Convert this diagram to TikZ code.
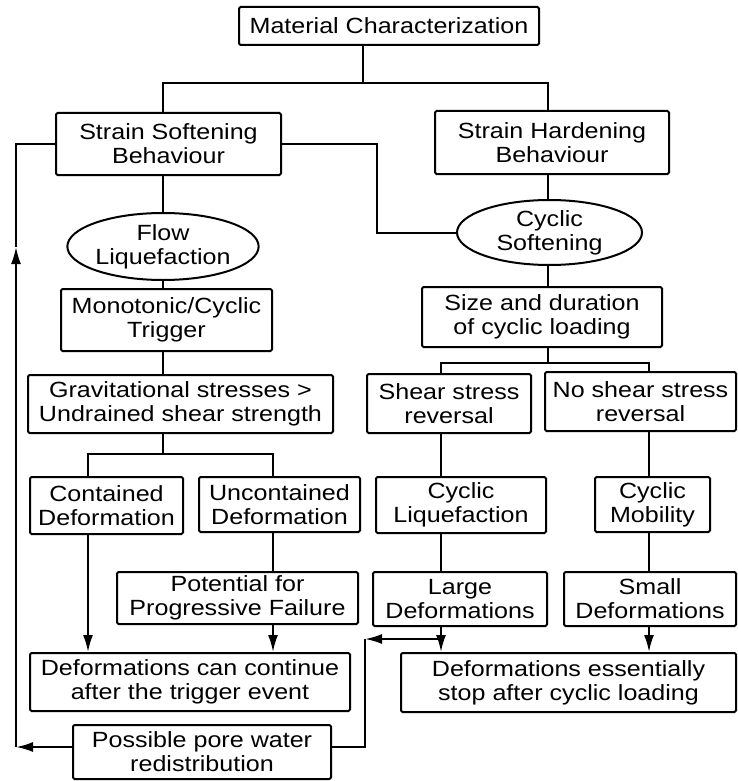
\documentclass[tikz,border=0pt]{standalone}
\usepackage{fontspec}
\setmainfont{Liberation Sans}[FakeStretch=1.14]
\usepackage{tikz}
\usetikzlibrary{shapes}
\usetikzlibrary{arrows.meta}
\usetikzlibrary{calc}

\tikzset{
  blk/.style={draw, rectangle, rounded corners=1.5pt, align=center, inner sep=0pt},
  oval/.style={draw, ellipse, align=center, inner sep=0pt},
  arr/.style={-{Latex[length=17pt,width=10pt]}},
}

\begin{document}
\begin{tikzpicture}[x=1pt, y=-1pt, line width=2pt, font=\fontsize{22}{24}\selectfont]
  \useasboundingbox (0,0) rectangle (738,781);
  % left branch
  \node[blk, minimum width=300, minimum height=38] (title) at (389,26) {Material Characterization};
  \node[blk, minimum width=225, minimum height=62] (soft) at (168.5,144) {Strain Softening\\Behaviour};
  \node[oval, minimum width=189, minimum height=67] (flow) at (163,246.5) {Flow\\Liquefaction};
  \node[blk, minimum width=211, minimum height=62] (mono) at (166.5,320) {Monotonic/Cyclic\\Trigger};
  \node[blk, minimum width=305, minimum height=58] (grav) at (180.5,404) {Gravitational stresses >\\Undrained shear strength};
  \node[blk, minimum width=153, minimum height=57] (cont) at (106.5,505.5) {Contained\\Deformation};
  \node[blk, minimum width=161, minimum height=55] (uncont) at (279.5,504.5) {Uncontained\\Deformation};
  \node[blk, minimum width=241, minimum height=52] (pot) at (237.5,598) {Potential for\\Progressive Failure};
  \node[blk, minimum width=320, minimum height=58] (goon) at (190,682) {Deformations can continue\\after the trigger event};
  \node[blk, minimum width=258, minimum height=54] (pore) at (202,752) {Possible pore water\\redistribution};
  % right branch
  \node[blk, minimum width=234, minimum height=63] (hard) at (552,142.5) {Strain Hardening\\Behaviour};
  \node[oval, minimum width=185, minimum height=65] (cyc) at (549.5,232.5) {Cyclic\\Softening};
  \node[blk, minimum width=240, minimum height=60] (size) at (542,317) {Size and duration\\of cyclic loading};
  \node[blk, minimum width=164, minimum height=59] (shear) at (449,403.5) {Shear stress\\reversal};
  \node[blk, minimum width=191, minimum height=59] (noshear) at (640.5,401.5) {No shear stress\\reversal};
  \node[blk, minimum width=170, minimum height=56] (cliq) at (461,505) {Cyclic\\Liquefaction};
  \node[blk, minimum width=115, minimum height=55] (cmob) at (652.5,504.5) {Cyclic\\Mobility};
  \node[blk, minimum width=174, minimum height=54] (large) at (460,599) {Large\\Deformations};
  \node[blk, minimum width=172, minimum height=54] (small) at (650,599) {Small\\Deformations};
  \node[blk, minimum width=335, minimum height=59] (stop) at (568.5,682.5) {Deformations essentially\\stop after cyclic loading};

  % columns for the connectors
  \coordinate (top) at (363,83);
  \coordinate (xl) at (163,0);
  \coordinate (xm) at (377,0);
  \coordinate (xr) at (548,0);
  \coordinate (c1) at (88,0);
  \coordinate (c2) at (273,0);
  \coordinate (s1) at (441,0);
  \coordinate (s2) at (649,0);
  \coordinate (ly) at (0,454);
  \coordinate (ry) at (0,363);

  \draw (title.south -| top) -- (top);
  \draw (soft.north -| xl) |- (top) -| (hard.north -| xr);
  \draw (soft.south -| xl) -- (flow.north);
  \draw (soft.east) -- (soft.east -| xm) |- (cyc.west);
  \draw (flow.south) -- (mono.north -| xl);
  \draw (mono.south -| xl) -- (grav.north -| xl);
  \draw (grav.south -| xl) -- (ly -| xl);
  \draw (cont.north -| c1) |- (ly -| xl) -| (uncont.north -| c2);
  \draw (uncont.south -| c2) -- (pot.north -| c2);
  \draw[arr] (cont.south -| c1) -- (goon.north -| c1);
  \draw[arr] (pot.south -| c2) -- (goon.north -| c2);

  \draw (hard.south -| xr) -- (cyc.north -| xr);
  \draw (cyc.south -| xr) -- (size.north -| xr);
  \draw (size.south -| xr) -- (ry -| xr);
  \draw (shear.north -| s1) |- (ry -| xr) -| (noshear.north -| s2);
  \draw (shear.south -| s1) -- (cliq.north -| s1);
  \draw (cliq.south -| s1) -- (large.north -| s1);
  \draw[arr] (large.south -| s1) -- (stop.north -| s1);
  \draw (noshear.south -| s2) -- (cmob.north -| s2);
  \draw (cmob.south -| s2) -- (small.north -| s2);
  \draw[arr] (small.south -| s2) -- (stop.north -| s2);

  % pore water feedback
  \coordinate (jn) at (441,639);
  \coordinate (kr) at (365,639);
  \coordinate (kl) at (16,747);
  \coordinate (up) at (16,247);
  \draw[arr] (jn) -- (kr);
  \draw (kr) |- (pore.east |- kl);
  \draw[arr] (pore.west |- kl) -- (kl);
  \draw[arr] (kl) -- (up);
  \draw (up) |- (soft.west);
\end{tikzpicture}
\end{document}
